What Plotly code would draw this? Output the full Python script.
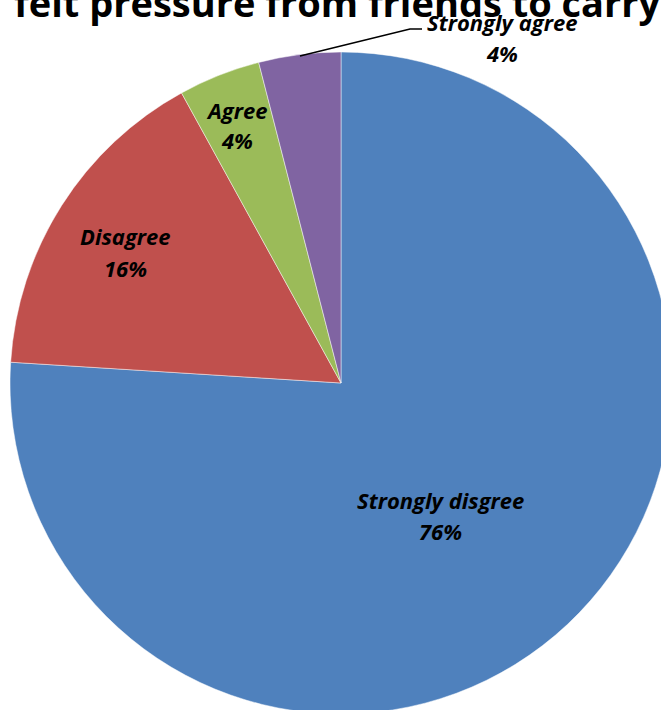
import plotly.graph_objects as go

labels = ["Strongly disgree", "Disagree", "Agree", "Strongly agree"]
values = [19, 4, 1, 1]
colors = ["#4F81BD", "#C0504D", "#9BBB59", "#8064A2"]
title_text = "felt pressure from friends to carry"

W, H = 680, 720
total = sum(values)
pcts = [f"{round(v / total * 100)}%" for v in values]

fig = go.Figure(go.Pie(
    labels=labels, values=values, sort=False, direction="clockwise", rotation=0,
    marker=dict(colors=colors, line=dict(color="rgba(255,255,255,0.6)", width=0.8)),
    textinfo="none", hoverinfo="label+percent", showlegend=False,
    domain=dict(x=[10 / W, 672 / W], y=[(H - 714) / H, (H - 52) / H]),
))

FONT = "Open Sans"
# label pixel positions (center x, label line y, pct line y)
label_pos = [(440, 500, 531), (125, 236, 268), (237, 110, 140), (502, 22, 53)]
anns = []
for lab, pct, (px, y1, y2) in zip(labels, pcts, label_pos):
    anns.append(dict(x=px / W, y=1 - y1 / H, xref="paper", yref="paper", text=f"<b><i>{lab}</i></b>",
                     showarrow=False, xanchor="center", yanchor="middle",
                     font=dict(family=FONT, size=22, color="black")))
    anns.append(dict(x=px / W, y=1 - y2 / H, xref="paper", yref="paper", text=f"<b><i>{pct}</i></b>",
                     showarrow=False, xanchor="center", yanchor="middle",
                     font=dict(family=FONT, size=22, color="black")))
anns.append(dict(x=12 / W, y=1 - 2 / H, xref="paper", yref="paper", text=f"<b>{title_text}</b>",
                 showarrow=False, xanchor="left", yanchor="middle",
                 font=dict(family=FONT, size=38, color="black")))

shapes = [
    dict(type="path", xref="paper", yref="paper",
         path=f"M {300 / W} {1 - 56 / H} L {410 / W} {1 - 29 / H} L {422 / W} {1 - 29 / H}",
         line=dict(color="black", width=1.5)),
]

fig.update_layout(
    width=W, height=H, margin=dict(l=0, r=0, t=0, b=0),
    paper_bgcolor="white", plot_bgcolor="white",
    annotations=anns, shapes=shapes,
)

fig.write_html("out.html", post_script="document.body.style.margin='0';document.body.style.overflow='hidden';")
